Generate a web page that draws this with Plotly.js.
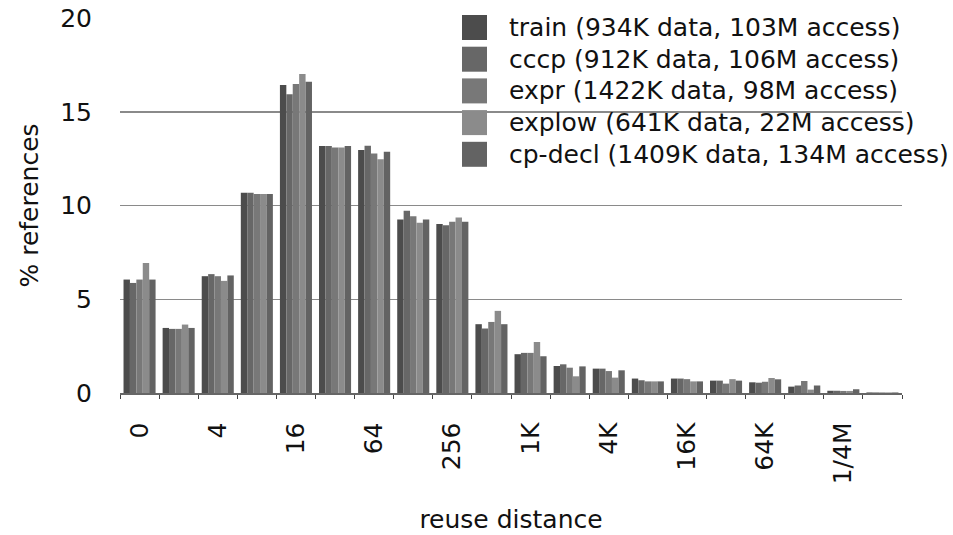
<!DOCTYPE html>
<html><head><meta charset="utf-8">
<script src="https://cdn.plot.ly/plotly-3.0.1.min.js"></script>
<style>html,body{margin:0;padding:0;background:#fff}</style>
</head><body><div id="chart" style="width:953px;height:535px"></div>
<script>
const categories = ['0','2','4','8','16','32','64','128','256','512','1K','2K','4K','8K','16K','32K','64K','128K','1/4M','1/2M'];
const tickLabels = ['0','','4','','16','','64','','256','','1K','','4K','','16K','','64K','','1/4M',''];
const seriesNames = ['train (934K data, 103M access)','cccp (912K data, 106M access)','expr (1422K data, 98M access)','explow (641K data, 22M access)','cp-decl (1409K data, 134M access)'];
const train  = [6.05, 3.47, 6.23, 10.68, 16.43, 13.17, 12.96, 9.26, 9.01, 3.67, 2.07, 1.44, 1.30, 0.77, 0.77, 0.66, 0.57, 0.34, 0.12, 0.03];
const cccp   = [5.87, 3.42, 6.34, 10.68, 15.93, 13.17, 13.19, 9.72, 8.95, 3.44, 2.14, 1.53, 1.30, 0.68, 0.77, 0.66, 0.55, 0.40, 0.12, 0.03];
const expr   = [6.05, 3.42, 6.23, 10.61, 16.48, 13.10, 12.78, 9.43, 9.13, 3.79, 2.14, 1.35, 1.17, 0.62, 0.74, 0.50, 0.60, 0.64, 0.11, 0.03];
const explow = [6.94, 3.65, 5.98, 10.61, 17.02, 13.10, 12.46, 9.08, 9.36, 4.38, 2.72, 0.89, 0.82, 0.62, 0.62, 0.74, 0.80, 0.18, 0.11, 0.03];
const cpdecl = [6.05, 3.47, 6.27, 10.61, 16.60, 13.17, 12.87, 9.26, 9.13, 3.67, 1.96, 1.42, 1.21, 0.62, 0.62, 0.66, 0.73, 0.40, 0.20, 0.03];
const seriesValues = [train, cccp, expr, explow, cpdecl];
const colors = ['#4c4c4c', '#676767', '#787878', '#8b8b8b', '#636363'];

const FONT = 'DejaVu Sans, Arial, sans-serif';
const L = 120, R = 902, T = 18, B = 393;
const px2x = p => (p - L) / (R - L);
const py2y = p => (B - p) / (B - T);

const traces = seriesValues.map((vals, i) => ({
  type: 'bar', x: categories, y: vals, name: seriesNames[i],
  marker: {color: colors[i], line: {width: 0}}, showlegend: false
}));

const shapes = [{type: 'rect', xref: 'paper', yref: 'paper', layer: 'between',
  x0: px2x(439), x1: px2x(953), y0: py2y(186), y1: py2y(0),
  fillcolor: '#ffffff', line: {width: 0}}];
const annotations = [];
seriesNames.forEach((n, i) => {
  const top = 15 + i * 31.7;
  shapes.push({type: 'rect', xref: 'paper', yref: 'paper', layer: 'above',
    x0: px2x(462), x1: px2x(487), y0: py2y(top + 25), y1: py2y(top),
    fillcolor: colors[i], line: {width: 0}});
  annotations.push({xref: 'paper', yref: 'paper', x: px2x(507), y: py2y(top + 12.5),
    xanchor: 'left', yanchor: 'middle', showarrow: false, text: n,
    font: {family: FONT, size: 25, color: '#111'}});
});

const layout = {
  width: 953, height: 535,
  margin: {l: L, r: 953 - R, t: T, b: 535 - B},
  paper_bgcolor: '#fff', plot_bgcolor: '#fff',
  barmode: 'group', bargap: 0.18, bargroupgap: 0,
  font: {family: FONT, size: 25, color: '#111'},
  xaxis: {
    type: 'category', tickvals: categories, ticktext: tickLabels,
    tickangle: -90, tickson: 'boundaries', ticks: 'outside', ticklen: 4,
    tickcolor: '#444', tickwidth: 1, showline: true, linecolor: '#666', linewidth: 1.5,
    showgrid: false, ticklabelstandoff: 18,
    tickfont: {family: FONT, size: 25, color: '#111'},
    title: {text: 'reuse distance', font: {family: FONT, size: 25, color: '#111'}, standoff: 27}
  },
  yaxis: {
    range: [0, 20], tickvals: [0, 5, 10, 15, 20], ticks: '',
    showgrid: true, gridcolor: '#8a8a8a', gridwidth: 1.5, zeroline: false,
    ticklabelstandoff: 27,
    tickfont: {family: FONT, size: 25, color: '#111'},
    title: {text: '% references', font: {family: FONT, size: 25, color: '#111'}, standoff: 14}
  },
  shapes: shapes, annotations: annotations
};
Plotly.newPlot('chart', traces, layout, {displayModeBar: false, staticPlot: true});
</script></body></html>
